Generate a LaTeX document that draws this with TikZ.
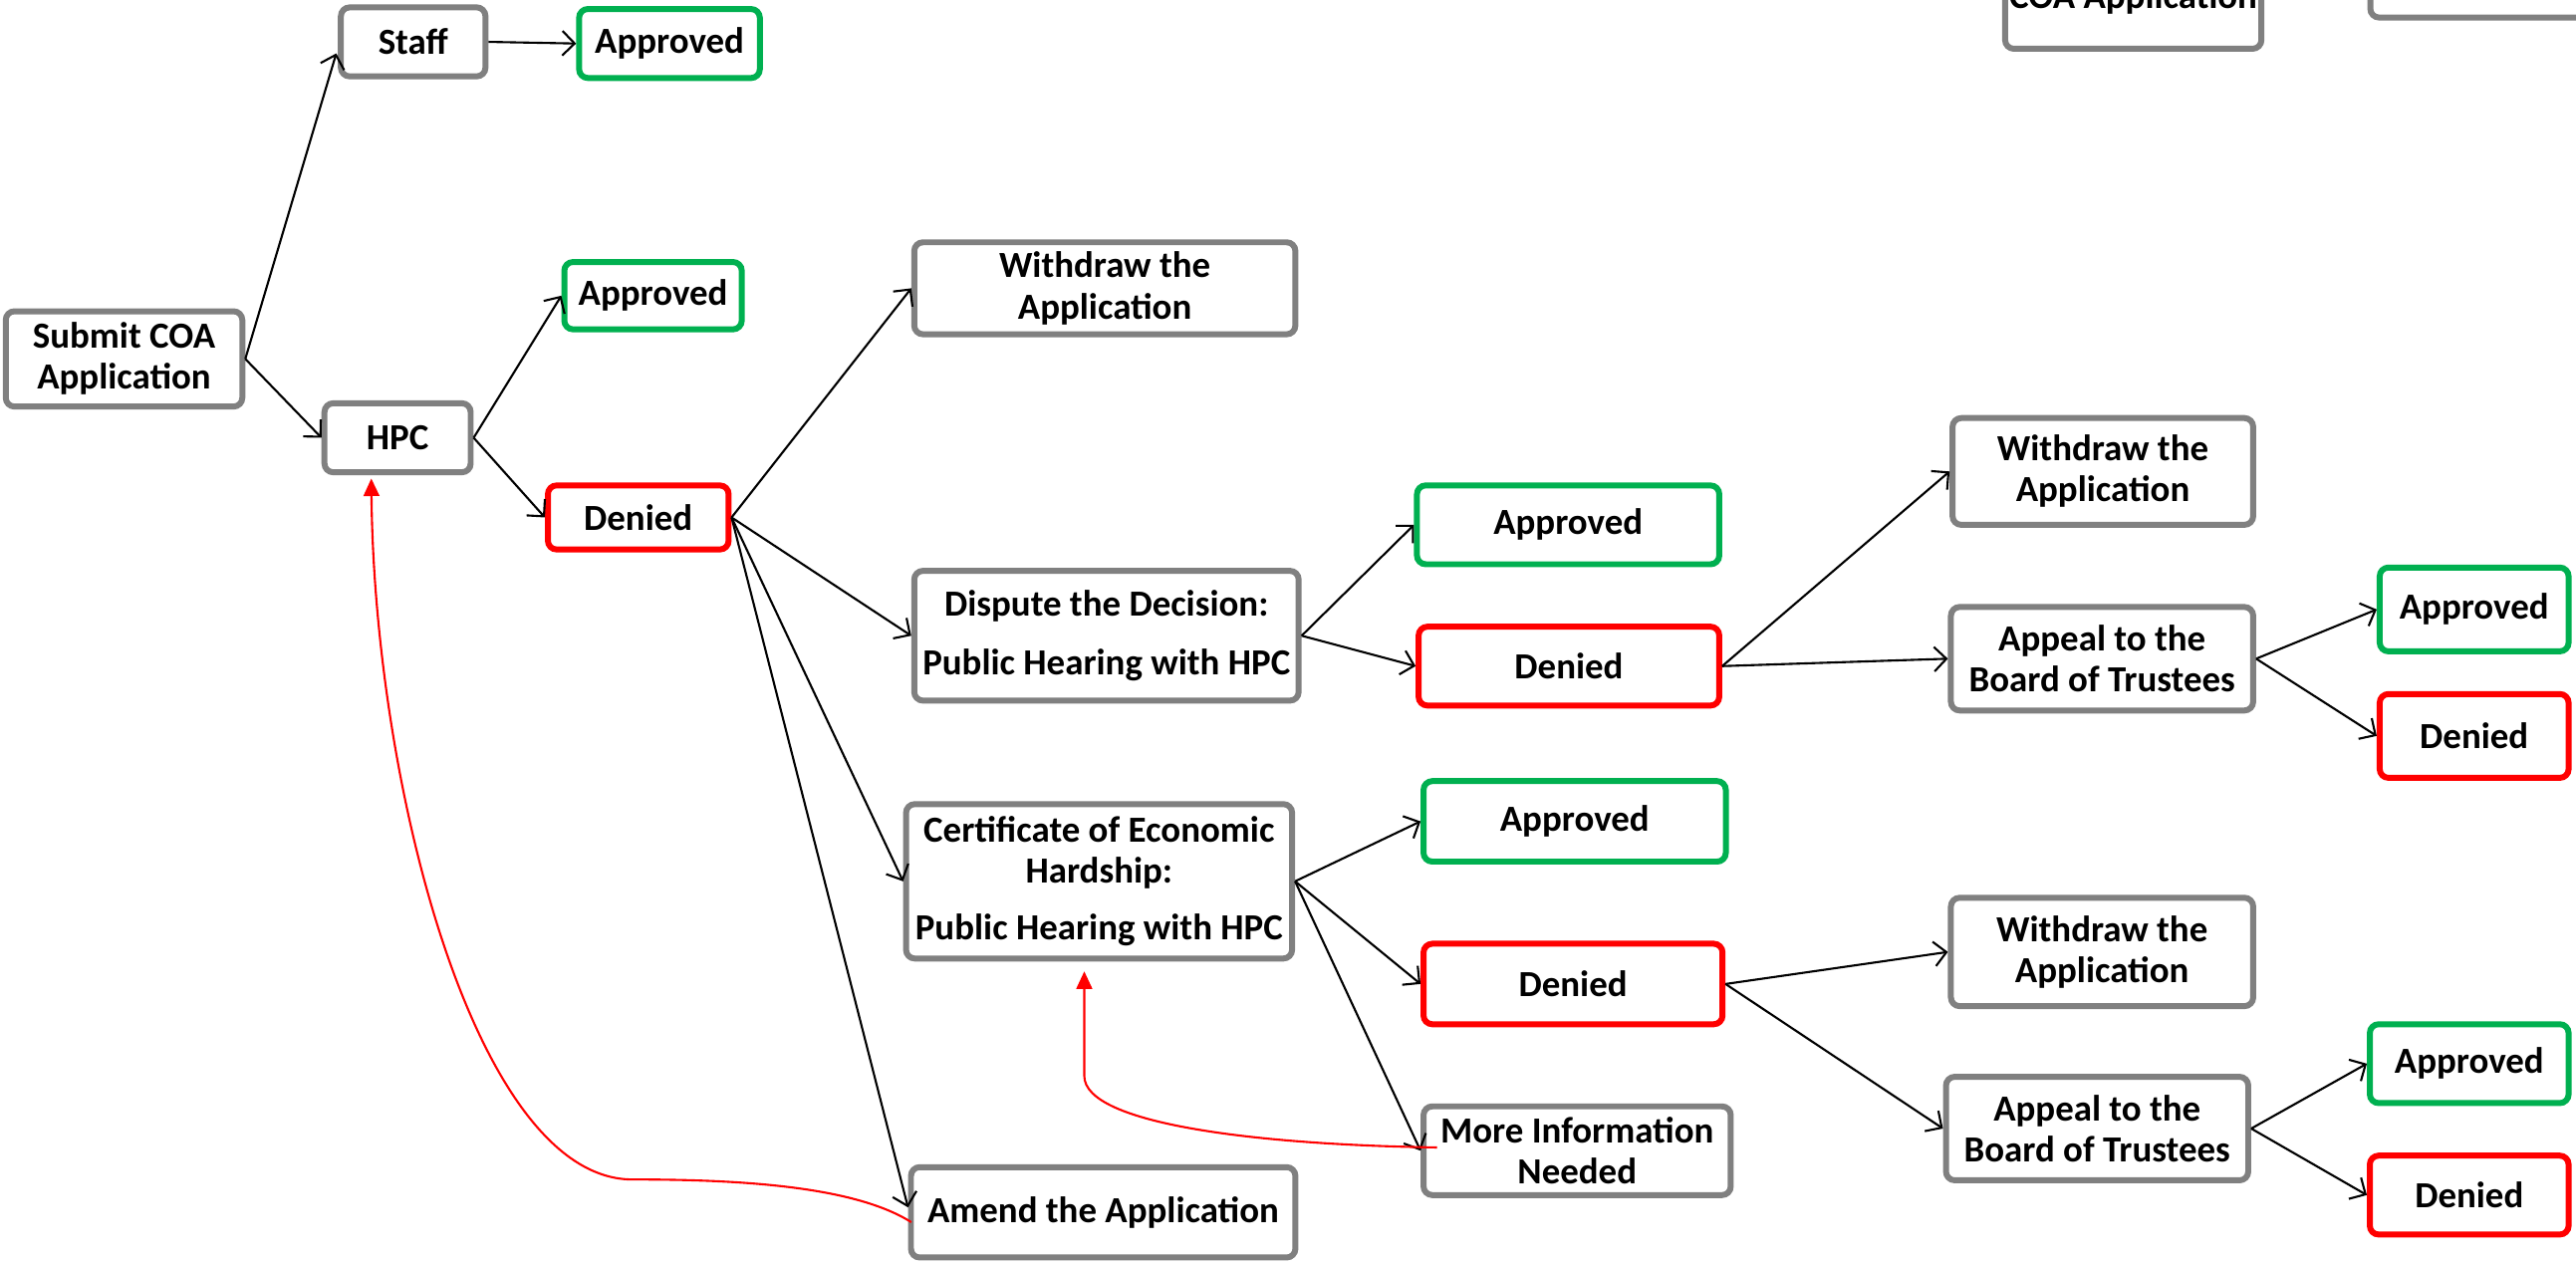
\documentclass[tikz,border=0pt]{standalone}
\usepackage{fontspec}
\setmainfont{Carlito}
\usetikzlibrary{arrows.meta,calc}
\newcommand{\px}{0.01649cm}
\definecolor{gline}{RGB}{128,128,128}
\definecolor{ggreen}{RGB}{0,176,80}
\definecolor{rred}{RGB}{255,0,0}
\tikzset{
  box/.style n args={3}{draw=#1, line width=1.7pt, rounded corners=2.5pt, fill=white,
    minimum width=#2*\px, minimum height=#3*\px, inner sep=0pt, align=center,
    font=\bfseries\fontsize{10.5}{11.7}\selectfont},
  gb/.style 2 args={box={gline}{#1}{#2}},
  gnb/.style 2 args={box={ggreen}{#1}{#2}},
  rb/.style 2 args={box={rred}{#1}{#2}},
  arr/.style={-{Straight Barb[length=3.5pt,width=7pt]}, line width=0.6pt, black},
  redarr/.style={-{Triangle[length=5pt,width=4.5pt]}, line width=0.6pt, rred},
}
\begin{document}
\begin{tikzpicture}[x=0.01649cm, y=-0.01649cm]
\useasboundingbox (0,0) rectangle (1568,769);
\clip (0,0) rectangle (1568,769);

% nodes
\node[gb={144}{58}] (submit) at (75.5,218.5) {Submit COA\\Application};
\node[gb={88}{42}] (staff) at (251.5,25.5) {Staff};
\node[gnb={110}{42}] (appS) at (407.5,26.5) {Approved};
\node[gb={89}{42}] (hpc) at (242,266.5) {HPC};
\node[gnb={108}{41}] (appH) at (397.5,180) {Approved};
\node[rb={110}{39}] (denH) at (388.5,315) {Denied};
\node[gb={232}{56}] (wd1) at (672.5,175.5) {Withdraw the\\Application};
\node[gb={234}{79}] (disp) at (673.5,387) {Dispute the Decision:\\[5pt]Public Hearing with HPC};
\node[gb={235}{94}] (cert) at (669,536.5) {Certificate of Economic\\Hardship:\\[4.5pt]Public Hearing with HPC};
\node[gb={234}{55}] (amend) at (671.5,738) {Amend the Application};
\node[gnb={184}{48}] (appD) at (954.5,319.5) {Approved};
\node[rb={183}{48}] (denD) at (955,405.5) {Denied};
\node[gnb={184}{49}] (appC) at (958.5,500) {Approved};
\node[rb={182}{49}] (denC) at (957.5,599) {Denied};
\node[gb={187}{54}] (more) at (960,700.5) {More Information\\Needed};
\node[gb={183}{65}] (wd2) at (1280,287) {Withdraw the\\Application};
\node[gb={184}{63}] (ap1) at (1279.5,401) {Appeal to the\\Board of Trustees};
\node[gnb={115}{51}] (appA1) at (1506,371) {Approved};
\node[rb={115}{51}] (denA1) at (1506,448) {Denied};
\node[gb={184}{66}] (wd3) at (1279.5,579.5) {Withdraw the\\Application};
\node[gb={184}{63}] (ap2) at (1276.5,687) {Appeal to the\\Board of Trustees};
\node[gnb={121}{48}] (appA2) at (1503,647.5) {Approved};
\node[rb={121}{48}] (denA2) at (1503,727.5) {Denied};
% boxes cut by the top edge
\node[gb={156}{1}, anchor=south, text height=0.9cm, text depth=0.40cm] (coa) at (1298.5,31.5) {COA Application};
\node[gb={200}{80}, anchor=south west] (rcut) at (1441,12.5) {};

% connectors
\draw[arr] (submit.east) -- ($(staff.west)+(-1,7)$);
\draw[arr] (submit.east) -- (hpc.west);
\draw[arr] (staff.east) -- (appS.west);
\draw[arr] (hpc.east) -- (appH.west);
\draw[arr] (hpc.east) -- (denH.west);
\draw[arr] (denH.east) -- (wd1.west);
\draw[arr] (denH.east) -- (disp.west);
\draw[arr] (denH.east) -- (cert.west);
\draw[arr] (denH.east) -- ($(amend.west)+(0,-3)$);
\draw[arr] (disp.east) -- (appD.west);
\draw[arr] (disp.east) -- (denD.west);
\draw[arr] (cert.east) -- (appC.west);
\draw[arr] (cert.east) -- (denC.west);
\draw[arr] (cert.east) -- (more.west);
\draw[arr] (denD.east) -- (wd2.west);
\draw[arr] (denD.east) -- (ap1.west);
\draw[arr] (ap1.east) -- (appA1.west);
\draw[arr] (ap1.east) -- (denA1.west);
\draw[arr] (denC.east) -- (wd3.west);
\draw[arr] (denC.east) -- (ap2.west);
\draw[arr] (ap2.east) -- (appA2.west);
\draw[arr] (ap2.east) -- (denA2.west);

% feedback curves
\draw[redarr] ($(amend.west)+(2,6)$) .. controls (520,722) and (450,718) .. (385,718)
  .. controls (290,718) and (228,480) .. ($(hpc.south)+(-16,2)$);
\draw[redarr] ($(more.west)+(10,-2)$) .. controls (770,697) and (660,685) .. (660,655)
  -- ($(cert.south)+(-9,6)$);
\end{tikzpicture}
\end{document}
